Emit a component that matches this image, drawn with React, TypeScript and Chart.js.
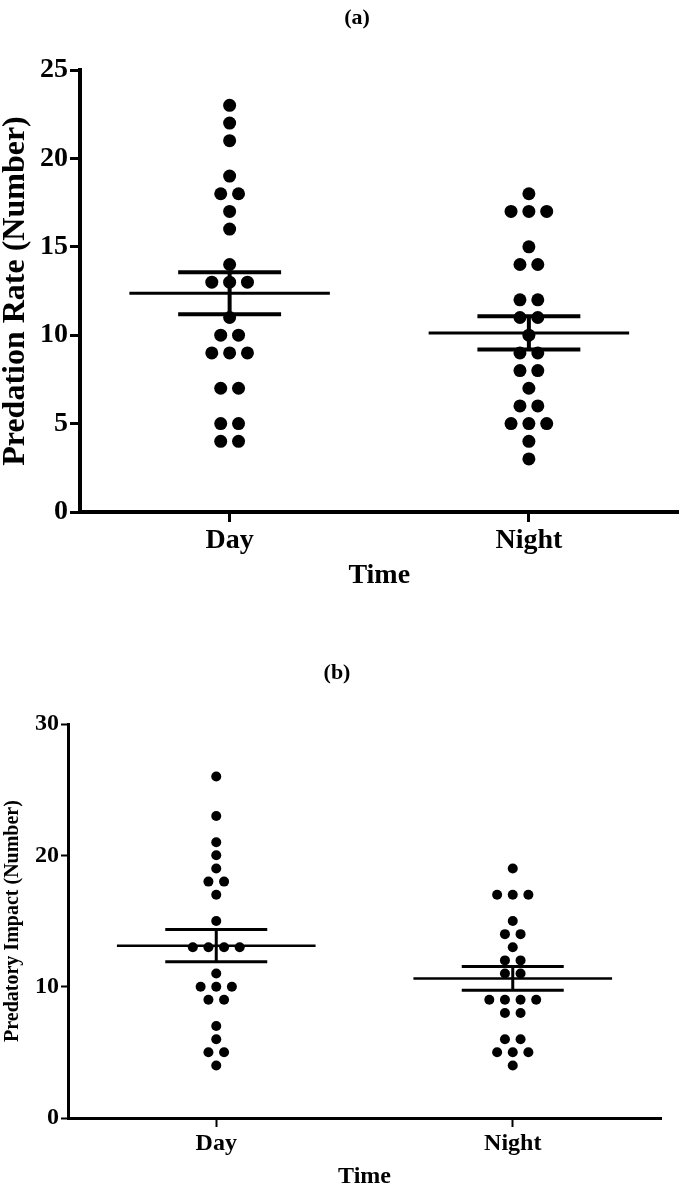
import React, { useEffect, useRef } from "react";
import { Chart, registerables } from "chart.js";
Chart.register(...registerables);

// ---- data ----
const categories = ["Day", "Night"];
const rateDay = [23, 22, 21, 19, 18, 18, 17, 16, 14, 13, 13, 13, 11, 10, 10, 9, 9, 9, 7, 7, 5, 5, 4, 4];
const rateNight = [18, 17, 17, 17, 15, 14, 14, 12, 12, 11, 11, 10, 9, 9, 8, 8, 7, 6, 6, 5, 5, 5, 4, 3];
const impactDay = [26, 23, 21, 20, 19, 18, 18, 17, 15, 13, 13, 13, 13, 11, 10, 10, 10, 9, 9, 7, 6, 5, 5, 4];
const impactNight = [19, 17, 17, 17, 15, 14, 14, 13, 12, 12, 11, 11, 9, 9, 9, 9, 8, 8, 6, 6, 5, 5, 5, 4];
const rateTicks = [0, 5, 10, 15, 20, 25];
const impactTicks = [0, 10, 20, 30];

const FONT = '"Liberation Serif", "Times New Roman", serif';

function swarm(values: number[], center: number, step: number) {
  const counts: Record<number, number> = {};
  const seen: Record<number, number> = {};
  values.forEach((v) => (counts[v] = (counts[v] || 0) + 1));
  return values.map((v) => {
    const i = (seen[v] = (seen[v] ?? -1) + 1);
    return { x: center + (i - (counts[v] - 1) / 2) * step, y: v };
  });
}

function stats(values: number[]) {
  const n = values.length;
  const mean = values.reduce((a, b) => a + b, 0) / n;
  const sd = Math.sqrt(values.reduce((a, b) => a + (b - mean) ** 2, 0) / (n - 1));
  return { mean, sem: sd / Math.sqrt(n) };
}

const seg = (x1: number, y1: number, x2: number, y2: number, w: number) => ({
  data: [
    { x: x1, y: y1 },
    { x: x2, y: y2 },
  ],
  showLine: true,
  borderColor: "#000",
  backgroundColor: "#000",
  borderWidth: w,
  pointRadius: 0,
  pointHoverRadius: 0,
  borderCapStyle: "butt",
  clip: false,
});

const headingPlugin = {
  id: "heading",
  afterDraw(chart: any, _args: any, opts: any) {
    const ctx = chart.ctx;
    ctx.save();
    ctx.font = `bold ${opts.size}px ${FONT}`;
    ctx.fillStyle = "#000";
    ctx.textAlign = "center";
    ctx.textBaseline = "middle";
    ctx.fillText(opts.text, opts.x, opts.y);
    ctx.restore();
  },
};

type Spec = {
  heading: string;
  headingX: number;
  headingY: number;
  headingSize: number;
  groups: number[][];
  yTicks: number[];
  yTitle: string;
  yTitleSize: number;
  yTitlePad: number;
  tickSize: number;
  xTitleSize: number;
  xTitlePad: number;
  padTop: number;
  padRight: number;
  yWidth: number;
  xHeight: number;
  yTickLen: number;
  xTickLen: number;
  xTickPad: number;
  axisW: number;
  dotR: number;
  dotStep: number;
  meanW: number;
  capW: number;
};

function makeConfig(s: Spec): any {
  const datasets: any[] = [];
  s.groups.forEach((vals, gi) => {
    const cx = gi + 1;
    datasets.push({
      data: swarm(vals, cx, s.dotStep),
      pointRadius: s.dotR,
      pointHoverRadius: s.dotR,
      pointBackgroundColor: "#000",
      pointBorderWidth: 0,
      showLine: false,
    });
  });
  s.groups.forEach((vals, gi) => {
    const cx = gi + 1;
    const { mean, sem } = stats(vals);
    datasets.push(seg(cx - 0.335, mean, cx + 0.335, mean, s.meanW));
    datasets.push(seg(cx - 0.172, mean + sem, cx + 0.172, mean + sem, s.capW));
    datasets.push(seg(cx - 0.172, mean - sem, cx + 0.172, mean - sem, s.capW));
    datasets.push(seg(cx, mean - sem, cx, mean + sem, s.capW));
  });
  const tickFont = { family: FONT, size: s.tickSize, weight: "bold" as const, lineHeight: 1.2 };
  return {
    type: "scatter",
    data: { datasets },
    plugins: [headingPlugin],
    options: {
      responsive: false,
      animation: false,
      events: [],
      layout: { padding: { left: 0, right: s.padRight, top: s.padTop, bottom: 0 } },
      plugins: {
        legend: { display: false },
        tooltip: { enabled: false },
        title: { display: false },
        heading: { text: s.heading, x: s.headingX, y: s.headingY, size: s.headingSize },
      },
      scales: {
        x: {
          type: "linear",
          min: 0.5,
          max: 2.5,
          afterBuildTicks: (sc: any) => {
            sc.ticks = categories.map((_, i) => ({ value: i + 1 }));
          },
          afterFit: (sc: any) => {
            sc.height = s.xHeight;
          },
          grid: {
            drawOnChartArea: false,
            drawTicks: true,
            tickLength: s.xTickLen,
            tickWidth: s.axisW - 1,
            tickColor: "#000",
            color: "#000",
          },
          border: { display: true, color: "#000", width: s.axisW },
          ticks: {
            callback: (v: number) => categories[Math.round(v) - 1],
            font: tickFont,
            color: "#000",
            padding: s.xTickPad,
            maxRotation: 0,
            autoSkip: false,
          },
          title: {
            display: true,
            text: "Time",
            color: "#000",
            font: { family: FONT, size: s.xTitleSize, weight: "bold", lineHeight: 1 },
            padding: { top: 0, bottom: s.xTitlePad },
          },
        },
        y: {
          type: "linear",
          min: s.yTicks[0],
          max: s.yTicks[s.yTicks.length - 1],
          afterBuildTicks: (sc: any) => {
            sc.ticks = s.yTicks.map((v) => ({ value: v }));
          },
          afterFit: (sc: any) => {
            sc.width = s.yWidth;
          },
          grid: {
            drawOnChartArea: false,
            drawTicks: true,
            tickLength: s.yTickLen,
            tickWidth: s.axisW - 1,
            tickColor: "#000",
            color: "#000",
          },
          border: { display: true, color: "#000", width: s.axisW },
          ticks: { font: tickFont, color: "#000", padding: 2 },
          title: {
            display: true,
            text: s.yTitle,
            color: "#000",
            font: { family: FONT, size: s.yTitleSize, weight: "bold", lineHeight: 1 },
            padding: { top: s.yTitlePad, bottom: 0 },
          },
        },
      },
    },
  };
}

const specA: Spec = {
  heading: "(a)",
  headingX: 357,
  headingY: 18,
  headingSize: 22,
  groups: [rateDay, rateNight],
  yTicks: rateTicks,
  yTitle: "Predation Rate (Number)",
  yTitleSize: 32,
  yTitlePad: 0,
  tickSize: 28,
  xTitleSize: 28,
  xTitlePad: 10,
  padTop: 70,
  padRight: 1,
  yWidth: 80,
  xHeight: 88,
  yTickLen: 10,
  xTickLen: 10,
  xTickPad: 2,
  axisW: 4,
  dotR: 6.5,
  dotStep: 0.0596,
  meanW: 3,
  capW: 4,
};

const specB: Spec = {
  heading: "(b)",
  headingX: 337,
  headingY: 73,
  headingSize: 22,
  groups: [impactDay, impactNight],
  yTicks: impactTicks,
  yTitle: "Predatory Impact (Number)",
  yTitleSize: 20,
  yTitlePad: 3,
  tickSize: 24,
  xTitleSize: 24,
  xTitlePad: 0,
  padTop: 124,
  padRight: 24,
  yWidth: 68,
  xHeight: 71,
  yTickLen: 7,
  xTickLen: 9,
  xTickPad: 2,
  axisW: 3,
  dotR: 5,
  dotStep: 0.0527,
  meanW: 2.5,
  capW: 3,
};

function ChartCanvas({ spec, top, height }: { spec: Spec; top: number; height: number }) {
  const ref = useRef<HTMLCanvasElement | null>(null);
  useEffect(() => {
    if (!ref.current) return;
    const chart = new Chart(ref.current, makeConfig(spec));
    return () => chart.destroy();
  }, [spec]);
  return (
    <canvas
      ref={ref}
      width={685}
      height={height}
      style={{ position: "absolute", left: 0, top, width: 685, height, display: "block" }}
    />
  );
}

export default function App() {
  useEffect(() => {
    document.body.style.margin = "0";
    document.body.style.background = "#fff";
  }, []);
  return (
    <div style={{ position: "relative", width: 685, height: 1189, background: "#fff" }}>
      <ChartCanvas spec={specA} top={0} height={600} />
      <ChartCanvas spec={specB} top={600} height={589} />
    </div>
  );
}
